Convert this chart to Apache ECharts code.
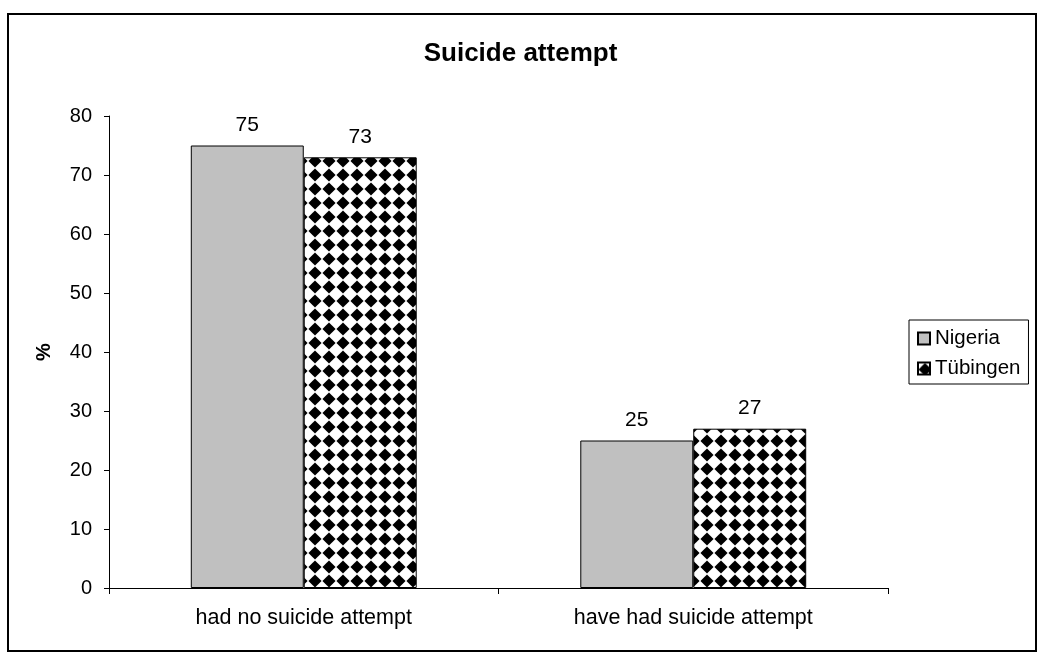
<!DOCTYPE html>
<html>
<head>
<meta charset="utf-8">
<script src="https://cdn.jsdelivr.net/npm/echarts@6/dist/echarts.min.js"></script>
<style>
  html, body { margin: 0; padding: 0; background: #fff; }
  #chart { width: 1041px; height: 662px; }
</style>
</head>
<body>
<div id="chart"></div>
<script>
// Suicide attempt: share of respondents (%) by group
const categories = ['had no suicide attempt', 'have had suicide attempt'];
const nigeriaValues = [75, 25];
const tubingenValues = [73, 27];
const yTicks = { min: 0, max: 80, interval: 10 };

// Black-diamond checker pattern for the Tübingen bars
function diamondPattern(size) {
  const c = document.createElement('canvas');
  c.width = size; c.height = size;
  const g = c.getContext('2d');
  g.fillStyle = '#ffffff';
  g.fillRect(0, 0, size, size);
  g.fillStyle = '#000000';
  const h = size / 2, r = size * 0.47;
  g.beginPath();
  g.moveTo(h, h - r);
  g.lineTo(h + r, h);
  g.lineTo(h, h + r);
  g.lineTo(h - r, h);
  g.closePath();
  g.fill();
  return c;
}

const font = 'Liberation Sans, Arial, sans-serif';
const chart = echarts.init(document.getElementById('chart'), null, { renderer: 'canvas' });

const barLabel = { show: true, position: 'top', distance: 10, fontFamily: font, fontSize: 21, color: '#000' };

chart.setOption({
  animation: false,
  backgroundColor: '#ffffff',
  textStyle: { fontFamily: font, color: '#000' },
  title: {
    text: 'Suicide attempt',
    left: 'center',
    top: 36,
    textStyle: { fontFamily: font, fontSize: 26, fontWeight: 'bold', color: '#000' }
  },
  graphic: [{
    type: 'rect',
    shape: { x: 8, y: 14, width: 1028, height: 637 },
    style: { fill: 'none', stroke: '#000', lineWidth: 2 },
    silent: true
  }],
  legend: {
    orient: 'vertical',
    left: 909,
    top: 320,
    padding: [8, 8, 5, 8],
    itemGap: 9,
    itemWidth: 12,
    itemHeight: 12,
    borderColor: '#000',
    borderWidth: 1,
    textStyle: { fontFamily: font, fontSize: 20.5, color: '#000' },
    data: [
      { name: 'Nigeria', icon: 'rect' },
      { name: 'Tübingen', icon: 'rect' }
    ]
  },
  grid: { left: 109, right: 153, top: 116, bottom: 74 },
  xAxis: {
    type: 'category',
    data: categories,
    axisLine: { lineStyle: { color: '#000', width: 1 } },
    axisTick: { show: true, length: 6, lineStyle: { color: '#000' } },
    axisLabel: { fontFamily: font, fontSize: 21.5, color: '#000', margin: 19 }
  },
  yAxis: {
    type: 'value',
    min: yTicks.min,
    max: yTicks.max,
    interval: yTicks.interval,
    name: '%',
    nameLocation: 'middle',
    nameGap: 55,
    nameTextStyle: { fontFamily: font, fontSize: 20, fontWeight: 'bold', color: '#000' },
    axisLine: { show: true, lineStyle: { color: '#000', width: 1 } },
    axisTick: { show: true, length: 5, lineStyle: { color: '#000' } },
    axisLabel: { fontFamily: font, fontSize: 20, color: '#000', margin: 17 },
    splitLine: { show: false }
  },
  series: [
    {
      name: 'Nigeria',
      type: 'bar',
      data: nigeriaValues,
      barGap: '0%',
      barCategoryGap: '42%',
      itemStyle: { color: '#c0c0c0', borderColor: '#000', borderWidth: 1 },
      label: barLabel
    },
    {
      name: 'Tübingen',
      type: 'bar',
      data: tubingenValues,
      barGap: '0%',
      barCategoryGap: '42%',
      itemStyle: {
        color: { image: diamondPattern(14), repeat: 'repeat' },
        borderColor: '#000',
        borderWidth: 1
      },
      label: barLabel
    }
  ]
});
</script>
</body>
</html>
